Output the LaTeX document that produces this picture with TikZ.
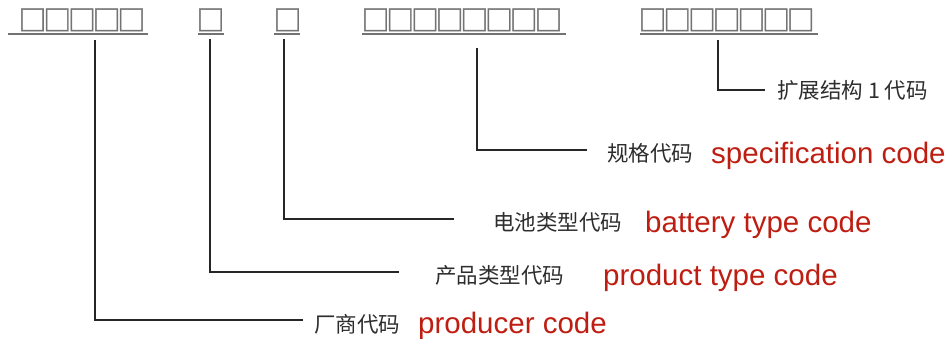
\documentclass[tikz,border=0pt]{standalone}
\usepackage{fontspec}
\setmainfont{Liberation Sans}
\newfontfamily\cjk{Noto Sans CJK SC}
\newfontfamily\boxfont[FakeBold=1.6]{Noto Sans CJK SC}
\definecolor{codered}{RGB}{190,30,18}
\definecolor{cjkgray}{RGB}{45,45,45}
\definecolor{boxgray}{RGB}{115,115,115}
\newcommand{\bx}{\makebox[24.7pt][c]{□}}
\begin{document}
\begin{tikzpicture}[x=1pt,y=-1pt,
  boxes/.style={inner sep=0pt,anchor=base west,text=boxgray,font=\boxfont\fontsize{28}{28}\selectfont},
  uline/.style={draw=boxgray,line width=1.4pt},
  conn/.style={draw=black!85,line width=1.8pt},
  cjklabel/.style={inner sep=0pt,anchor=base west,text=cjkgray,font=\cjk\fontsize{21.5}{21.5}\selectfont},
  enlabel/.style={inner sep=0pt,anchor=base west,text=codered,font=\fontsize{29.5}{29.5}\selectfont}]
\useasboundingbox (0,0) rectangle (949,338);
% code groups
\node[boxes] (g1) at (20,30.5) {\bx\bx\bx\bx\bx};
\node[boxes] (g2) at (198,30.5) {\bx};
\node[boxes] (g3) at (275,30.5) {\bx};
\node[boxes] (g4) at (363,30.5) {\bx\bx\bx\bx\bx\bx\bx\bx};
\node[boxes] (g5) at (640,30.5) {\bx\bx\bx\bx\bx\bx\bx};
\draw[uline] (8,34) -- (148,34);
\draw[uline] (198,34) -- (224,34);
\draw[uline] (274,34) -- (300,34);
\draw[uline] (362,34) -- (566,34);
\draw[uline] (640,34) -- (818,34);
% connector start points
\coordinate (s1) at (95,40);
\coordinate (s2) at (210,39);
\coordinate (s3) at (284,39);
\coordinate (s4) at (477,48);
\coordinate (s5) at (718,40);
% labels
\node[cjklabel] (l5) at (777,98) {扩展结构 1 代码};
\node[cjklabel] (l4) at (607,161) {规格代码};
\node[enlabel] (e4) at (711,163) {specification code};
\node[cjklabel] (l3) at (493,230) {电池类型代码};
\node[enlabel] (e3) at (645,232) {battery type code};
\node[cjklabel] (l2) at (435,283) {产品类型代码};
\node[enlabel] (e2) at (603,285) {product type code};
\node[cjklabel] (l1) at (314,332) {厂商代码};
\node[enlabel] (e1) at (418,333) {producer code};
% connectors
\draw[conn] (s5) |- (765,90);
\draw[conn] (s4) |- (587,150);
\draw[conn] (s3) |- (454,219);
\draw[conn] (s2) |- (399,272);
\draw[conn] (s1) |- (303,320);
\end{tikzpicture}
\end{document}
